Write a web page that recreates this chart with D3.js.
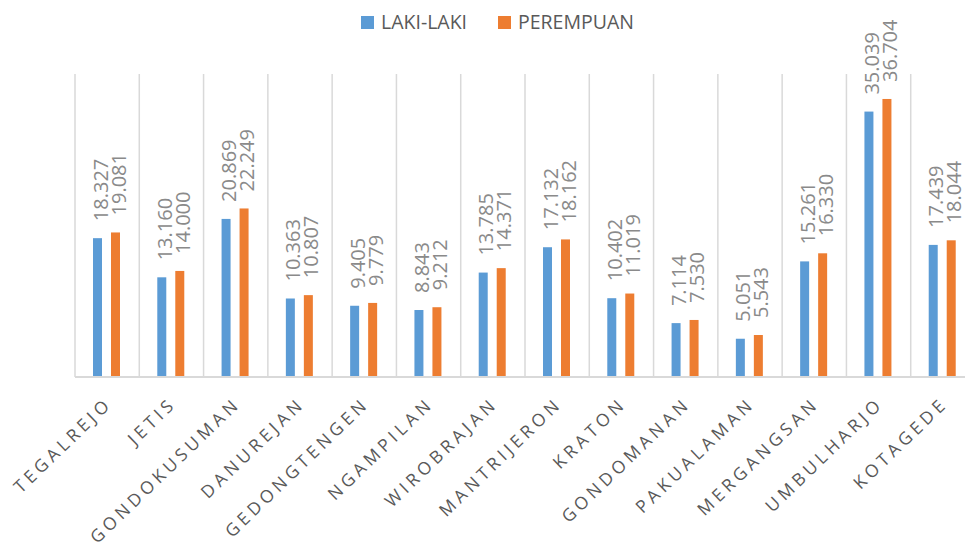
<!DOCTYPE html>
<html lang="en">
  <head>
    <meta charset="UTF-8" />
    <title>Laki-laki dan Perempuan per Kecamatan</title>
    <script src="https://d3js.org/d3.v7.min.js"></script>
    <style>
      body {
        margin: 0;
        background: #fff;
        font-family: "Open Sans", Arial, sans-serif;
      }
      .grid line {
        stroke: #d9d9d9;
        stroke-width: 1.5px;
      }
      .xlabel {
        font-size: 17.5px;
        letter-spacing: 4.1px;
        fill: #595959;
      }
      .vlabel {
        font-size: 20px;
        fill: #8a8a8a;
      }
    </style>
  </head>
  <body>
    <script>
      // kecamatan (x axis)
      var categories = [
        "TEGALREJO", "JETIS", "GONDOKUSUMAN", "DANUREJAN", "GEDONGTENGEN",
        "NGAMPILAN", "WIROBRAJAN", "MANTRIJERON", "KRATON", "GONDOMANAN",
        "PAKUALAMAN", "MERGANGSAN", "UMBULHARJO", "KOTAGEDE"
      ];
      var seriesNames = ["LAKI-LAKI", "PEREMPUAN"];
      var lakiLaki = [
        18.327, 13.16, 20.869, 10.363, 9.405, 8.843, 13.785, 17.132, 10.402,
        7.114, 5.051, 15.261, 35.039, 17.439
      ];
      var perempuan = [
        19.081, 14.0, 22.249, 10.807, 9.779, 9.212, 14.371, 18.162, 11.019,
        7.53, 5.543, 16.33, 36.704, 18.044
      ];
      var colors = ["#5b9bd5", "#ed7d31"];

      var width = 965,
        height = 545;
      var plot = { left: 75, right: 975, top: 74, bottom: 377 };

      var svg = d3
        .select("body")
        .append("svg")
        .attr("width", width)
        .attr("height", height);

      var x = d3.scaleBand().domain(categories).range([plot.left, plot.right]);
      var xInner = d3
        .scaleBand()
        .domain(seriesNames)
        .range([18, 45])
        .paddingInner(0.5);
      var y = d3.scaleLinear().domain([0, 40]).range([plot.bottom, plot.top]);

      // vertical separators between categories
      var grid = svg.append("g").attr("class", "grid");
      grid
        .selectAll("line")
        .data(categories)
        .enter()
        .append("line")
        .attr("x1", function (d) { return x(d); })
        .attr("x2", function (d) { return x(d); })
        .attr("y1", plot.top)
        .attr("y2", plot.bottom);

      // bars
      var rows = categories.map(function (c, i) {
        return { cat: c, values: [lakiLaki[i], perempuan[i]] };
      });

      var groups = svg
        .selectAll(".cat")
        .data(rows)
        .enter()
        .append("g")
        .attr("class", "cat")
        .attr("transform", function (d) {
          return "translate(" + x(d.cat) + ",0)";
        });

      groups
        .selectAll("rect")
        .data(function (d) {
          return d.values.map(function (v, j) {
            return { s: seriesNames[j], v: v, j: j };
          });
        })
        .enter()
        .append("rect")
        .attr("x", function (d) { return xInner(d.s); })
        .attr("width", xInner.bandwidth())
        .attr("y", function (d) { return y(d.v); })
        .attr("height", function (d) { return y(0) - y(d.v); })
        .attr("fill", function (d) { return colors[d.j]; });

      // rotated value labels
      groups
        .selectAll(".vlabel")
        .data(function (d) {
          return d.values.map(function (v, j) {
            return { s: seriesNames[j], v: v };
          });
        })
        .enter()
        .append("text")
        .attr("class", "vlabel")
        .attr("transform", function (d) {
          var cx = xInner(d.s) + xInner.bandwidth() / 2 + 10;
          return "translate(" + cx + "," + (y(d.v) - 17) + ") rotate(-90)";
        })
        .text(function (d) { return d3.format(".3f")(d.v); });

      // baseline
      svg
        .append("line")
        .attr("x1", plot.left)
        .attr("x2", plot.right)
        .attr("y1", plot.bottom)
        .attr("y2", plot.bottom)
        .attr("stroke", "#d9d9d9")
        .attr("stroke-width", 2);

      // category labels, 45 degrees
      svg
        .selectAll(".xlabel")
        .data(categories)
        .enter()
        .append("text")
        .attr("class", "xlabel")
        .attr("text-anchor", "end")
        .attr("transform", function (d) {
          var px = x(d) + x.bandwidth() / 2 + 6;
          return "translate(" + px + ",405) rotate(-44)";
        })
        .text(function (d) { return d; });

      // legend
      var legend = svg
        .selectAll(".legend")
        .data(seriesNames)
        .enter()
        .append("g")
        .attr("class", "legend")
        .attr("transform", function (d, i) {
          return "translate(" + (361 + i * 137) + ",16)";
        });
      legend
        .append("rect")
        .attr("width", 13)
        .attr("height", 13)
        .attr("fill", function (d, i) { return colors[i]; });
      legend
        .append("text")
        .attr("x", 20)
        .attr("y", 13)
        .style("font-size", "19.5px")
        .style("fill", "#595959")
        .text(function (d) { return d; });
    </script>
  </body>
</html>
